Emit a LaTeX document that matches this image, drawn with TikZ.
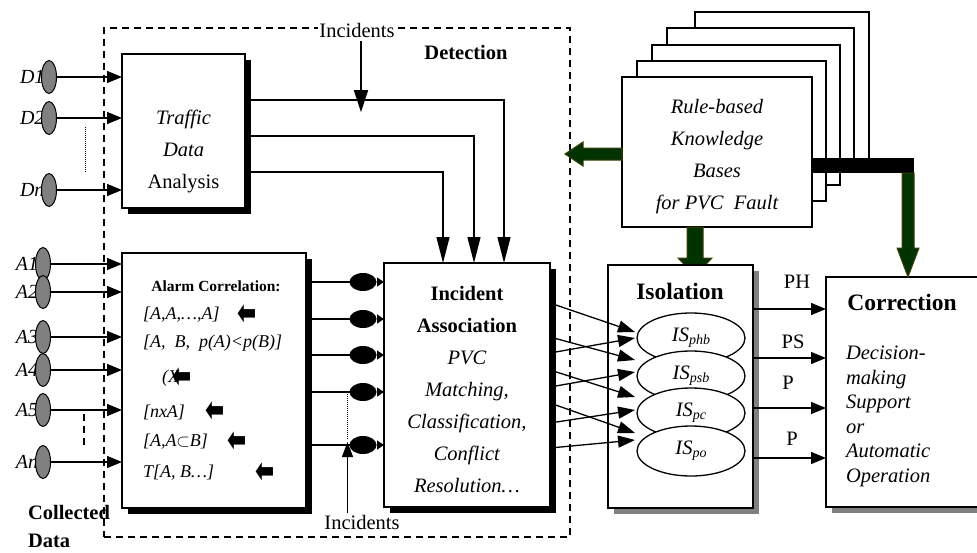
\documentclass[tikz,border=0pt]{standalone}
\usepackage{fontspec}
\setmainfont{Liberation Serif}
\newfontfamily\djv{DejaVu Sans}
\usetikzlibrary{arrows.meta,shapes.geometric,shadows,calc}
\definecolor{dkgreen}{RGB}{0,51,0}
\definecolor{greenedge}{RGB}{60,64,0}
\definecolor{shgray}{RGB}{128,128,128}
\newcommand{\bigarrowglyph}{\scalebox{1.15}[1.7]{⬅}}
\begin{document}
\begin{tikzpicture}[x=1pt,y=-1pt,
  every node/.style={inner sep=0pt, outer sep=0pt},
  fnt/.style={font=\fontsize{20.5}{32}\selectfont},
  box/.style={draw, line width=1.4pt, fill=white},
  bshadow/.style={general shadow={fill=black, shadow xshift=6pt, shadow yshift=-6pt}},
  gshadow/.style={general shadow={fill=shgray, shadow xshift=6pt, shadow yshift=-6pt}},
  oval/.style={ellipse, draw, line width=1pt, fill=shgray, minimum width=15pt, minimum height=33pt},
  blackdot/.style={ellipse, fill=black, minimum width=27pt, minimum height=18pt},
  isell/.style={ellipse, draw, line width=1.3pt, fill=white, minimum width=108pt, minimum height=50pt, font=\fontsize{20.5}{24}\selectfont},
  conn/.style={line width=1.3pt, -{Triangle[length=15pt,width=12pt]}},
  wire/.style={line width=1.3pt},
  tallarr/.style={line width=1.3pt, -{Triangle[length=26pt,width=13pt]}},
  smallarr/.style={line width=1.3pt, -{Triangle[length=7pt,width=9pt]}},
  crossarr/.style={line width=1.3pt, -{Triangle[length=17pt,width=12pt]}},
  greenarr/.style={fill=dkgreen, draw=greenedge, line width=1pt},
  lbl/.style={font=\fontsize{20}{24}\selectfont\itshape},
  sm/.style={font=\fontsize{18}{20}\selectfont\itshape},
  glyph/.style={font=\djv\bfseries\fontsize{20}{20}\selectfont},
  rbox/.style={draw, line width=1.3pt, fill=white},
  dashframe/.style={draw, line width=1.3pt, dash pattern=on 7pt off 5pt},
  boldt/.style={font=\fontsize{20.5}{24}\selectfont\bfseries},
  bigbold/.style={font=\fontsize{23.5}{28}\selectfont\bfseries},
  plaint/.style={font=\fontsize{20.5}{24}\selectfont}
]
\useasboundingbox (0,0) rectangle (977,552);
\clip (0,0) rectangle (977,552);

% Detection frame
\node[dashframe, minimum width=466pt, minimum height=509pt] (det) at (337,282.5) {};
\node[boldt] (detlbl) at (466,52) {Detection};
\node[plaint, fill=white, inner sep=1pt] (inctop) at (357,30) {Incidents};

% Traffic data analysis
\node[box, bshadow, minimum width=123pt, minimum height=154pt] (tda) at (183.5,131) {};
\node[fnt, align=center] (tdatxt) at (183.5,151) {\textit{Traffic}\\\textit{Data}\\Analysis};

% Alarm correlation
\node[box, bshadow, minimum width=184pt, minimum height=255pt] (ac) at (214,380.5) {};
\node[font=\fontsize{15.5}{18}\selectfont\bfseries] (actitle) at (216,286) {Alarm Correlation:};
\node[sm, anchor=west] (r1) at (143,315) {[A,A,…,A]};
\node[glyph] (g1) at (247,315) {\bigarrowglyph};
\node[sm, anchor=west] (r2) at (143,343) {[A,\ \ B,\ \ p(A)<p(B)]};
\node[sm, anchor=east] (r3) at (179,378) {(X};
\node[glyph] (g3) at (182,378) {\bigarrowglyph};
\node[sm, anchor=west] (r4) at (143,412) {[nxA]};
\node[glyph] (g4) at (215,412) {\bigarrowglyph};
\node[sm, anchor=west] (r5) at (143,442) {[A,A$\subset$B]};
\node[glyph] (g5) at (237,442) {\bigarrowglyph};
\node[sm, anchor=west] (r6) at (143,473) {T[A, B…]};
\node[glyph] (g6) at (265,473) {\bigarrowglyph};

% Incident association
\node[box, bshadow, minimum width=166pt, minimum height=244pt] (ia) at (467,385) {};
\node[fnt, align=center] (iatxt) at (467,390) {\textbf{Incident}\\\textbf{Association}\\\textit{PVC}\\\textit{Matching,}\\\textit{Classification,}\\\textit{Conflict}\\\textit{Resolution…}};

% D inputs
\foreach \n/\t/\y in {d1/D1/77, d2/D2/118, dn/Dn/190} {
  \node[lbl, anchor=west] (l\n) at (20,\y) {\t};
  \node[oval] (\n) at (49,\y) {};
  \draw[conn] (\n) -- (\n -| tda.west);
}
\draw[line width=1pt, dash pattern=on 1pt off 1pt] ($(d2)+(36,9)$) -- ($(dn)+(36,-18)$);

% A inputs
\foreach \n/\t/\y in {a1/A1/264, a2/A2/292, a3/A3/337, a4/A4/370, a5/A5/410, an/An/462} {
  \node[lbl, anchor=east] (l\n) at (38,\y) {\t};
  \node[oval] (\n) at (43,\y) {};
  \draw[conn] (\n) -- (\n -| ac.west);
}
\draw[line width=1.2pt, dash pattern=on 7pt off 5pt] ($(a5)+(41,4)$) -- ($(an)+(41,-15)$);

\node[boldt, anchor=west] (coll) at (28,512) {Collected};
\node[boldt, anchor=west] (colldata) at (28,541) {Data};

% Traffic -> Incident association
\draw[tallarr] ($(tda.north east)+(0,46)$) -| ($(ia.north west)+(120,0)$);
\draw[tallarr] ($(tda.north east)+(0,82)$) -| ($(ia.north west)+(90,0)$);
\draw[tallarr] ($(tda.north east)+(0,118)$) -| ($(ia.north west)+(59,0)$);
\draw[line width=1.3pt, -{Triangle[length=22pt,width=14pt]}] ($(inctop.south)+(4,3)$) -- ($(inctop.south)+(4,74)$);

% Alarm -> Incident association via black dots
\foreach \n/\y in {e1/282, e2/319, e3/355, e4/392, e5/445} {
  \node[blackdot] (\n) at (363,\y) {};
  \draw[wire] (\n -| ac.east) -- (\n);
  \draw[smallarr] (\n) -- (\n -| ia.west);
}
\node[plaint] (incbot) at (362,522) {Incidents};
\draw[line width=1pt, dash pattern=on 1pt off 1pt] ($(e4.west)+(-2,0)$) -- ($(e5.west)+(-2,-6)$);
\draw[line width=1.3pt, -{Triangle[length=15pt,width=11pt]}] ($(incbot.north -| e5.west)+(-2,-2)$) -- ($(e5.west)+(-2,-3)$);

% Rule-based knowledge bases
\node[rbox, minimum width=174pt, minimum height=151pt] (kb5) at (782,87.5) {};
\node[rbox, minimum width=187pt, minimum height=140pt] (kb4) at (760.5,98) {};
\node[rbox, minimum width=188pt, minimum height=140pt] (kb3) at (746,115) {};
\node[rbox, minimum width=189pt, minimum height=140pt] (kb2) at (731.5,131) {};
\node[rbox, minimum width=190pt, minimum height=150pt] (rb) at (717,152) {};
\node[font=\fontsize{20.5}{32}\selectfont\itshape, align=center] (rbtxt) at (717,157) {Rule-based\\Knowledge\\Bases\\for PVC\ \ Fault};

% Correction box
\node[box, gshadow, minimum width=164pt, minimum height=230pt] (corr) at (908,392) {};
\node[bigbold] (corrlbl) at (902,302) {Correction};
\node[font=\fontsize{20.5}{24.6}\selectfont\itshape, align=left, anchor=north west] (corrtxt) at (846,346) {Decision-\\making\\Support\\or\\Automatic\\Operation};

% thick bar and green arrows
\fill[black] ($(rb.east)+(0,6)$) rectangle ($(corr.north)+(6,-104)$);
\draw[greenarr] (corr.north) -- ++(-11,-29) -- ++(5,0) -- ++(0,-75) -- ++(12,0) -- ++(0,75) -- ++(5,0) -- cycle;
\draw[greenarr] (rb.west) ++(0,-4) -- ++(-39,0) -- ++(0,-6) -- ++(-18,12) -- ++(18,12) -- ++(0,-6) -- ++(39,0) -- cycle;
\draw[greenarr] (rb.south) ++(-30,0) -- ++(0,31) -- ++(-9,0) -- ++(17,18) -- ++(17,-18) -- ++(-9,0) -- ++(0,-31) -- cycle;

% Isolation
\node[box, gshadow, minimum width=145pt, minimum height=243pt] (iso) at (680.5,386.5) {};
\node[bigbold] (isolbl) at (680,291) {Isolation};
\node[isell] (is1) at (691,338) {\textit{IS}\raisebox{-0.35ex}{\fontsize{14}{14}\selectfont\textit{phb}}};
\node[isell] (is2) at (691,376) {\textit{IS}\raisebox{-0.35ex}{\fontsize{14}{14}\selectfont\textit{psb}}};
\node[isell] (is3) at (691,413) {\textit{IS}\raisebox{-0.35ex}{\fontsize{14}{14}\selectfont\textit{pc}}};
\node[isell] (is4) at (691,451) {\textit{IS}\raisebox{-0.35ex}{\fontsize{14}{14}\selectfont\textit{po}}};

% Incident association -> Isolation
\draw[crossarr] ($(ia.north east)+(0,40)$) -- ($(is1.west)+(-2,-6)$);
\draw[crossarr] ($(ia.north east)+(0,90)$) -- ($(is1.west)+(-2,0)$);
\draw[crossarr] ($(ia.north east)+(0,74)$) -- ($(is2.west)+(-2,-16)$);
\draw[crossarr] ($(ia.north east)+(0,124)$) -- ($(is2.west)+(-2,-4)$);
\draw[crossarr] ($(ia.north east)+(0,107)$) -- ($(is3.west)+(-2,-16)$);
\draw[crossarr] ($(ia.north east)+(0,160)$) -- ($(is3.west)+(-2,-3)$);
\draw[crossarr] ($(ia.north east)+(0,140)$) -- ($(is4.west)+(-2,-18)$);
\draw[crossarr] ($(ia.north east)+(0,185)$) -- ($(is4.west)+(-2,-11)$);

% Isolation -> Correction
\draw[conn] ($(iso.north east)+(0,44)$) -- ($(corr.north west)+(0,32)$);
\draw[conn] ($(iso.north east)+(0,93)$) -- ($(corr.north west)+(0,81)$);
\draw[conn] ($(iso.north east)+(0,143)$) -- ($(corr.north west)+(0,131)$);
\draw[conn] ($(iso.north east)+(0,193)$) -- ($(corr.north west)+(0,181)$);
\node[plaint] (lph) at (797,282) {PH};
\node[plaint] (lps) at (793,342) {PS};
\node[plaint] (lp1) at (788,383) {P};
\node[plaint] (lp2) at (792,439) {P};
\end{tikzpicture}
\end{document}
